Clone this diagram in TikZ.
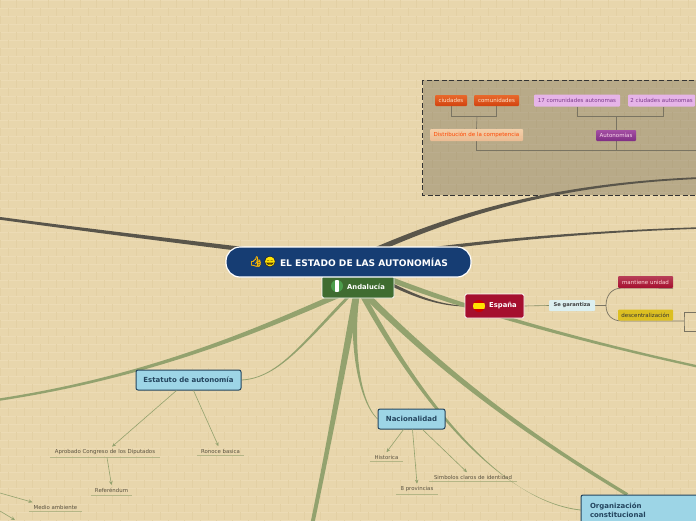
\documentclass[tikz,border=0pt]{standalone}
\usepackage{fontspec}
\setmainfont{DejaVu Sans}
\newfontfamily\emojifont[AutoFakeBold=3]{Noto Emoji}
\usetikzlibrary{arrows.meta,backgrounds,calc}

\definecolor{fondo}{HTML}{E8D6AC}
\definecolor{ladrillo}{HTML}{ECDBB5}
\definecolor{junta}{HTML}{E3D0A4}
\definecolor{ramaoscura}{HTML}{59554A}
\definecolor{ramaverde}{HTML}{93A26E}
\definecolor{azulhub}{HTML}{163D73}
\definecolor{celeste}{HTML}{9DD5E6}
\definecolor{tintaazul}{HTML}{24455E}
\definecolor{lineacaja}{HTML}{7A7462}
\definecolor{tintahoja}{HTML}{5A5240}
\definecolor{verdeand}{HTML}{3F6C30}
\definecolor{rojoesp}{HTML}{A50F2E}
\definecolor{naranjaa}{HTML}{E8692C}
\definecolor{naranjab}{HTML}{D2430F}
\definecolor{lilaclaro}{HTML}{E6B4E8}
\definecolor{lilatinta}{HTML}{7A3A8A}
\definecolor{salmona}{HTML}{F3CFA8}
\definecolor{salmonb}{HTML}{EBBB92}
\definecolor{moradoa}{HTML}{A44FA4}
\definecolor{moradob}{HTML}{7F2E84}

\tikzset{
    caja/.style={inner sep=0pt, align=center},
    celda/.style={caja, rounded corners=1pt, minimum height=11pt, font=\fontsize{5.5}{6}\selectfont},
    azul/.style={caja, fill=celeste, draw=tintaazul, line width=1pt, rounded corners=2pt,
        text=tintaazul, font=\fontsize{7}{9}\bfseries\selectfont},
    hoja/.style={caja, inner ysep=2.5pt, text=tintahoja, font=\fontsize{5.4}{6}\selectfont},
    rayahoja/.style={ramaverde, opacity=0.6, line width=0.6pt},
    flecha/.style={ramaverde, line width=0.6pt, -{Stealth[length=4pt,width=3.5pt]}},
    conector/.style={lineacaja, line width=0.6pt},
}

% rama con grosor variable: estilo, inicio, control, control, fin, medio grosor, medio grosor
\newcommand{\rama}[7]{
    \fill[#1] ($(#2)+(#6)$) .. controls ($(#3)+(#6)$) and ($(#4)+(#7)$) .. ($(#5)+(#7)$)
        -- ($(#5)-(#7)$) .. controls ($(#4)-(#7)$) and ($(#3)-(#6)$) .. ($(#2)-(#6)$) -- cycle;
}

\begin{document}
\begin{tikzpicture}[x=1pt,y=-1pt]
            \useasboundingbox (0,0) rectangle (696,520);

            % centro:
            \node[caja, minimum width=72pt, minimum height=22pt, fill=verdeand, draw=white,
                line width=0.8pt, rounded corners=1.5pt, text=white, font=\fontsize{6.8}{8}\bfseries\selectfont] (andalucia) at (358,287)
                {\hspace{16pt}Andalucía};
            \node[caja, minimum width=245pt, minimum height=30pt, rounded corners=14pt, fill=azulhub, draw=white,
                line width=1.2pt, text=white, font=\fontsize{9.1}{10}\bfseries\selectfont] (hub) at (348.5,262)
                {\hspace{31pt}EL ESTADO DE LAS AUTONOMÍAS};
            \node[inner sep=0pt, text=orange!55!yellow, font=\fontsize{10}{10}\bfseries\emojifont] (pulgar) at (256,261.5) {👍};
            \node[circle, inner sep=0pt, minimum size=10pt, fill=yellow!85!orange] (risa) at (270,261.5) {};
            \node[inner sep=0pt, text=black!80!orange, font=\fontsize{10.5}{10}\emojifont] (cara) at (risa.center) {😄};

            % España:
            \node[caja, minimum width=59pt, minimum height=24pt, fill=rojoesp, draw=white, line width=0.8pt,
                rounded corners=1.5pt, text=white, font=\fontsize{6.8}{8}\bfseries\selectfont] (espana) at (494.5,306)
                {\hspace{17pt}España};
            \node[caja, minimum width=46pt, minimum height=11pt, fill=cyan!15!white!85!fondo, rounded corners=1pt,
                text=black!75, font=\fontsize{5.2}{6}\bfseries\selectfont] (garantiza) at (572,305.5) {Se garantiza};
            \node[celda, minimum width=55pt, minimum height=12pt, top color=rojoesp!80!white, bottom color=rojoesp,
                text=white!85!red] (unidad) at (645.5,282) {mantiene unidad};
            \node[celda, minimum width=55pt, minimum height=11pt, fill=yellow!75!orange!85!black, text=black!80] (descentral) at (645.5,315)
                {descentralización};

            % caja de trazos:
            \node[celda, minimum width=32pt, top color=naranjaa, bottom color=naranjab, text=white!80!orange] (ciudades) at (451,100.5) {ciudades};
            \node[celda, minimum width=45pt, top color=naranjaa, bottom color=naranjab, text=white!80!orange] (comunidades) at (496.5,100.5) {comunidades};
            \node[celda, minimum width=86pt, minimum height=12pt, fill=lilaclaro, text=lilatinta] (diecisiete) at (577,100.5) {17 comunidades autonomas};
            \node[celda, minimum width=67pt, minimum height=12pt, fill=lilaclaro, text=lilatinta] (dos) at (661.5,100.5) {2 ciudades autonomas};
            \node[celda, minimum width=93pt, minimum height=12pt, top color=salmona, bottom color=salmonb, text=red!45!orange] (distribucion) at (476.5,135) {Distribución de la competencia};
            \node[celda, minimum width=40pt, top color=moradoa, bottom color=moradob, text=white!85!magenta] (autonomias) at (616,135.5) {Autonomías};

            % temas azules:
            \node[azul, minimum width=105pt, minimum height=20pt] (estatuto) at (188.5,380) {Estatuto de autonomía};
            \node[azul, minimum width=67pt, minimum height=20pt] (nacionalidad) at (411.5,419) {Nacionalidad};
            \node[azul, minimum width=120pt, minimum height=30pt, text width=102pt, align=left, xshift=-2pt] (organizacion) at (643,510) {Organización\\constitucional};

            % hojas:
            \node[hoja, minimum width=110pt] (aprobado) at (105,452) {Aprobado Congreso de los Diputados};
            \node[hoja, minimum width=47pt] (ronoce) at (220.5,451) {Ronoce basica};
            \node[hoja, minimum width=41pt] (referendum) at (111.5,490) {Referéndum};
            \node[hoja, minimum width=53pt] (medio) at (55.5,507) {Medio ambiente};
            \node[hoja, minimum width=33pt] (historica) at (386.5,457) {Historica};
            \node[hoja, minimum width=42pt] (provincias) at (417,489) {8 provincias};
            \node[hoja, minimum width=88pt] (simbolos) at (473,477) {Simbolos claros de identidad};
            \foreach \n in {aprobado,ronoce,referendum,medio,historica,provincias,simbolos}
                \draw[rayahoja] (\n.south west) -- (\n.south east);

            % extremos libres:
            \coordinate (finoeste) at (-10,217);
            \coordinate (finnorte) at (700,178);
            \coordinate (fineste) at (700,228);
            \coordinate (finizq) at (-10,401);
            \coordinate (finabajo) at (311,530);
            \coordinate (finderecha) at (700,367);
            \coordinate (salidauno) at (0,493);
            \coordinate (salidados) at (0,511);
            \coordinate (saleuno) at (15,520);
            \coordinate (bracket) at (684,321);
            \coordinate (horquilla) at (606,305.5);

            % flechas:
            \draw[flecha] ([xshift=-12pt]estatuto.south) -- ([xshift=7pt]aprobado.north);
            \draw[flecha] ([xshift=5pt]estatuto.south) -- ([xshift=-2pt]ronoce.north);
            \draw[flecha] ([xshift=2pt]aprobado.south) -- (referendum.north);
            \draw[flecha] (salidauno) -- ([xshift=-23pt]medio.north);
            \draw[flecha] (salidados) -- (saleuno);
            \draw[flecha] ([xshift=-8pt]nacionalidad.south) -- (historica.north);
            \draw[flecha] ([xshift=1pt]nacionalidad.south) -- (provincias.north);
            \draw[flecha] ([xshift=11pt]nacionalidad.south) -- ([xshift=-6pt]simbolos.north);

            \begin{scope}[on background layer]
                % ladrillos:
                \fill[fondo] (0,0) rectangle (696,520);
                \foreach \r in {0,...,65} {
                    \draw[ladrillo, line width=0.5pt] (0,\r*8) -- (696,\r*8);
                    \pgfmathsetmacro{\desp}{mod(\r,2)*8}
                    \foreach \c in {0,...,44}
                        \draw[junta, line width=0.4pt] (\desp+\c*16,\r*8) -- (\desp+\c*16,\r*8+8);
                }
                % caja de trazos:
                \filldraw[fill=black!60!fondo, fill opacity=0.34, draw=black!80, dash pattern=on 5pt off 2.5pt, line width=0.9pt] (422.5,80) rectangle (702,195);
                \draw[conector] (ciudades.south) |- (496.5,116) -- (comunidades.south);
                \draw[conector] (477,116) -- (distribucion.north);
                \draw[conector] (diecisiete.south) |- (663,116) -- ([xshift=1.5pt]dos.south);
                \draw[conector] (616,116) -- (autonomias.north);
                \draw[conector] (distribucion.south) |- (700,150);
                \draw[conector] (autonomias.south) -- (616,150);
                % ramas:
                \rama{ramaoscura}{hub.center}{250,250}{100,232}{finoeste}{0,2.5}{0,1.4}
                \rama{ramaoscura}{hub.center}{430,225}{530,185}{finnorte}{0,3}{0,0.9}
                \rama{ramaoscura}{hub.center}{440,245}{570,232}{fineste}{0,2}{0,0.8}
                \rama{ramaoscura}{hub.center}{400,290}{430,305}{espana.west}{0,2.2}{0,0.5}
                \rama{ramaverde}{andalucia.center}{290,315}{170,375}{finizq}{0,3}{0,1.2}
                \rama{ramaverde}{andalucia.center}{305,340}{280,378}{estatuto.east}{2,0}{0,0.4}
                \rama{ramaverde}{andalucia.center}{348,340}{330,440}{finabajo}{3.5,0}{2,0}
                \rama{ramaverde}{andalucia.center}{350,340}{358,400}{nacionalidad.west}{2.5,0}{0.4,0}
                \rama{ramaverde}{andalucia.center}{405,375}{490,500}{organizacion.west}{2.5,-1}{0,0.4}
                \rama{ramaverde}{andalucia.center}{440,370}{520,430}{[xshift=-14pt]organizacion.north}{2.5,-2}{1.2,-1.2}
                \rama{ramaverde}{hub.center}{410,290}{530,330}{finderecha}{0,3}{0,1.2}
                % España y sus ramas:
                \draw[ramaverde!70!ramaoscura, line width=0.6pt] (espana.east) -- (garantiza.west);
                \draw[lineacaja, line width=0.7pt] (garantiza.east) -- (horquilla);
                \draw[lineacaja, line width=0.7pt] (unidad.south east) -- (622,288) .. controls (612,288) and (606,295) .. (horquilla);
                \draw[lineacaja, line width=0.7pt] (bracket) -- (622,321) .. controls (612,321) and (606,315) .. (horquilla);
                \draw[lineacaja, line width=0.7pt] (700,312) -| (bracket) |- (700,331.5);
            \end{scope}

            % banderas:
            \begin{scope}
                \clip (337,286) circle (6);
                \fill[green!45!black!70!white] (330,279) rectangle (344,293);
                \fill[white] (335,279) rectangle (339,293);
            \end{scope}
            \begin{scope}
                \clip (479,306) circle (6);
                \fill[red!80!black] (472,299) rectangle (486,313);
                \fill[yellow!85!orange] (472,303) rectangle (486,309);
            \end{scope}
\end{tikzpicture}
\end{document}
